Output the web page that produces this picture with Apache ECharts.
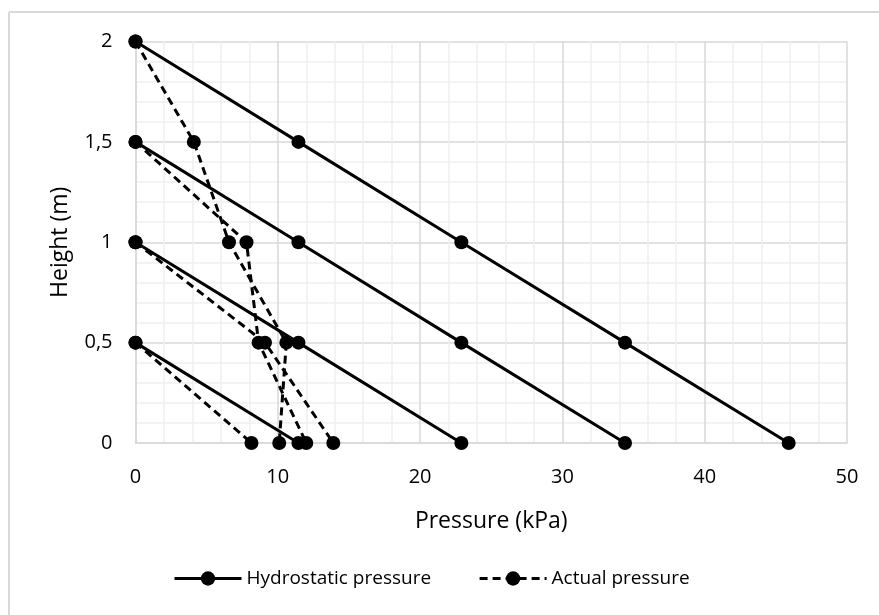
<!DOCTYPE html>
<html>
<head>
<meta charset="utf-8">
<script src="https://cdn.jsdelivr.net/npm/echarts@6/dist/echarts.min.js"></script>
<style>
html,body{margin:0;padding:0;background:#fff;}
#chart{width:879px;height:615px;}
</style>
</head>
<body>
<div id="chart"></div>
<script>
// Heights (m) for each profile, top to bottom
const heights20 = [2, 1.5, 1, 0.5, 0];
const heights15 = [1.5, 1, 0.5, 0];
const heights10 = [1, 0.5, 0];
const heights05 = [0.5, 0];

// Hydrostatic pressure (kPa)
const hydro20 = [0, 11.45, 22.9, 34.4, 45.9];
const hydro15 = [0, 11.45, 22.9, 34.4];
const hydro10 = [0, 11.45, 22.9];
const hydro05 = [0, 11.45];

// Actual pressure (kPa)
const actual20 = [0, 4.1, 6.57, 10.6, 10.1];
const actual15 = [0, 7.8, 8.65, 12.0];
const actual10 = [0, 9.1, 13.9];
const actual05 = [0, 8.15];

const xTicks = [0, 10, 20, 30, 40, 50];
const yTicks = [0, 0.5, 1, 1.5, 2];

function pairs(xs, ys) { return xs.map((x, i) => [x, ys[i]]); }

const FONT = 'Open Sans';
const solid = { color: '#000', width: 3, type: 'solid' };
const dashed = { color: '#000', width: 3, type: [8, 5] };

function mk(name, xs, ys, ls) {
  return {
    name: name, type: 'line', data: pairs(xs, ys),
    symbol: 'circle', symbolSize: 14,
    itemStyle: { color: '#000' },
    lineStyle: ls, clip: false, animation: false,
    emphasis: { disabled: true }
  };
}

const chart = echarts.init(document.getElementById('chart'));
chart.setOption({
  backgroundColor: '#fff',
  animation: false,
  graphic: [
    { type: 'line', shape: { x1: 9, y1: 12, x2: 879, y2: 12 }, style: { stroke: '#d9d9d9', lineWidth: 2 } },
    { type: 'line', shape: { x1: 9, y1: 12, x2: 9, y2: 615 }, style: { stroke: '#d9d9d9', lineWidth: 2 } }
  ],
  grid: { left: 135.5, right: 32, top: 41.5, bottom: 172, containLabel: false },
  legend: {
    left: 173, top: 569, padding: 0, itemWidth: 67, itemHeight: 18, itemGap: 47,
    lineStyle: { width: 3 },
    textStyle: { fontFamily: FONT, fontSize: 19, color: '#000' },
    data: ['Hydrostatic pressure', 'Actual pressure']
  },
  xAxis: {
    type: 'value', min: 0, max: 50, interval: 10,
    name: 'Pressure (kPa)', nameLocation: 'middle', nameGap: 67,
    nameTextStyle: { fontFamily: FONT, fontSize: 23, color: '#000' },
    axisLine: { show: true, lineStyle: { color: '#d9d9d9', width: 1.5 } },
    axisTick: { show: false },
    axisLabel: { fontFamily: FONT, fontSize: 20, color: '#000', margin: 24 },
    splitLine: { show: true, lineStyle: { color: '#d9d9d9', width: 1.5 } },
    minorTick: { show: false, splitNumber: 5 },
    minorSplitLine: { show: true, lineStyle: { color: '#f0f0f0', width: 1.5 } }
  },
  yAxis: {
    type: 'value', min: 0, max: 2, interval: 0.5,
    name: 'Height (m)', nameLocation: 'middle', nameGap: 64,
    nameTextStyle: { fontFamily: FONT, fontSize: 23, color: '#000' },
    axisLine: { show: true, lineStyle: { color: '#d9d9d9', width: 1.5 } },
    axisTick: { show: false },
    axisLabel: { fontFamily: FONT, fontSize: 20, color: '#000', margin: 23,
      formatter: v => String(v).replace('.', ',') },
    splitLine: { show: true, lineStyle: { color: '#d9d9d9', width: 1.5 } },
    minorTick: { show: false, splitNumber: 5 },
    minorSplitLine: { show: true, lineStyle: { color: '#f0f0f0', width: 1.5 } }
  },
  series: [
    mk('Hydrostatic pressure', hydro20, heights20, solid),
    mk('Hydrostatic pressure', hydro15, heights15, solid),
    mk('Hydrostatic pressure', hydro10, heights10, solid),
    mk('Hydrostatic pressure', hydro05, heights05, solid),
    mk('Actual pressure', actual20, heights20, dashed),
    mk('Actual pressure', actual15, heights15, dashed),
    mk('Actual pressure', actual10, heights10, dashed),
    mk('Actual pressure', actual05, heights05, dashed)
  ]
});
</script>
</body>
</html>
